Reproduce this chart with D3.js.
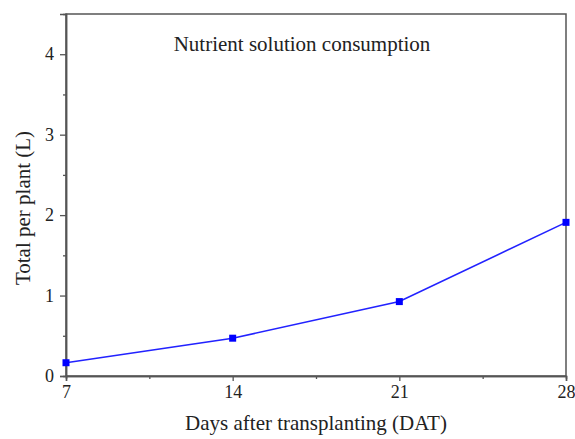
<!DOCTYPE html>
<html><head><meta charset="utf-8">
<script src="https://cdn.jsdelivr.net/npm/d3@7"></script>
<style>body{margin:0;background:#fff}svg{display:block}text{font-family:"Liberation Serif","Times New Roman",serif;fill:#222}</style>
</head><body>
<script>
const days = [7, 14, 21, 28];
const consumption = [0.165, 0.47, 0.925, 1.91];
const xTicks = [7, 14, 21, 28];
const xMinor = [10.5, 17.5, 24.5];
const yTicks = [0, 1, 2, 3, 4];
const yMinor = [0.5, 1.5, 2.5, 3.5];
const title = "Nutrient solution consumption";
const xLabel = "Days after transplanting (DAT)";
const yLabel = "Total per plant (L)";

const W = 575, H = 439;
const m = {left: 66, right: 9, top: 14, bottom: 63};
const svg = d3.select("body").append("svg").attr("width", W).attr("height", H);
const x = d3.scaleLinear().domain([7, 28]).range([m.left, W - m.right]);
const y = d3.scaleLinear().domain([0, 4.5]).range([H - m.bottom, m.top]);
const axisColor = "#555";

svg.append("rect").attr("x", m.left).attr("y", m.top)
  .attr("width", W - m.right - m.left).attr("height", H - m.bottom - m.top)
  .attr("fill", "none").attr("stroke", axisColor).attr("stroke-width", 1.5);

const gx = svg.append("g").attr("transform", `translate(0,${H - m.bottom})`)
  .call(d3.axisBottom(x).tickValues(xTicks).tickSize(5).tickPadding(4).tickFormat(d3.format("d")));
const gxm = svg.append("g").attr("transform", `translate(0,${H - m.bottom})`)
  .call(d3.axisBottom(x).tickValues(xMinor).tickSize(3).tickFormat(""));
const gy = svg.append("g").attr("transform", `translate(${m.left},0)`)
  .call(d3.axisLeft(y).tickValues(yTicks).tickSize(6).tickPadding(6).tickFormat(d3.format("d")));
const gym = svg.append("g").attr("transform", `translate(${m.left},0)`)
  .call(d3.axisLeft(y).tickValues(yMinor).tickSize(3).tickFormat(""));
[gx, gxm, gy, gym].forEach(g => {
  g.attr("font-family", null).attr("font-size", null);
  g.select(".domain").attr("stroke", axisColor).attr("stroke-width", 1.5);
  g.selectAll(".tick line").attr("stroke", axisColor).attr("stroke-width", 1.3);
  g.selectAll(".tick text").style("font-family", "'Liberation Serif', serif").style("font-size", "18px").attr("fill", "#222");
});

const pts = days.map((d, i) => [d, consumption[i]]);
svg.append("path").datum(pts)
  .attr("fill", "none").attr("stroke", "#2222ff").attr("stroke-width", 1.6)
  .attr("d", d3.line().x(d => x(d[0])).y(d => y(d[1])));
svg.append("g").selectAll("rect").data(pts).join("rect")
  .attr("x", d => x(d[0]) - 3.5).attr("y", d => y(d[1]) - 3.5)
  .attr("width", 7).attr("height", 7).attr("fill", "#0000ff");

svg.append("text").attr("x", 302).attr("y", 51).attr("text-anchor", "middle")
  .style("font-size", "21px").text(title);
svg.append("text").attr("x", 316).attr("y", 430).attr("text-anchor", "middle")
  .style("font-size", "21px").text(xLabel);
svg.append("text").attr("transform", `translate(30,208) rotate(-90)`)
  .attr("text-anchor", "middle").style("font-size", "21px").text(yLabel);
</script>
</body></html>
